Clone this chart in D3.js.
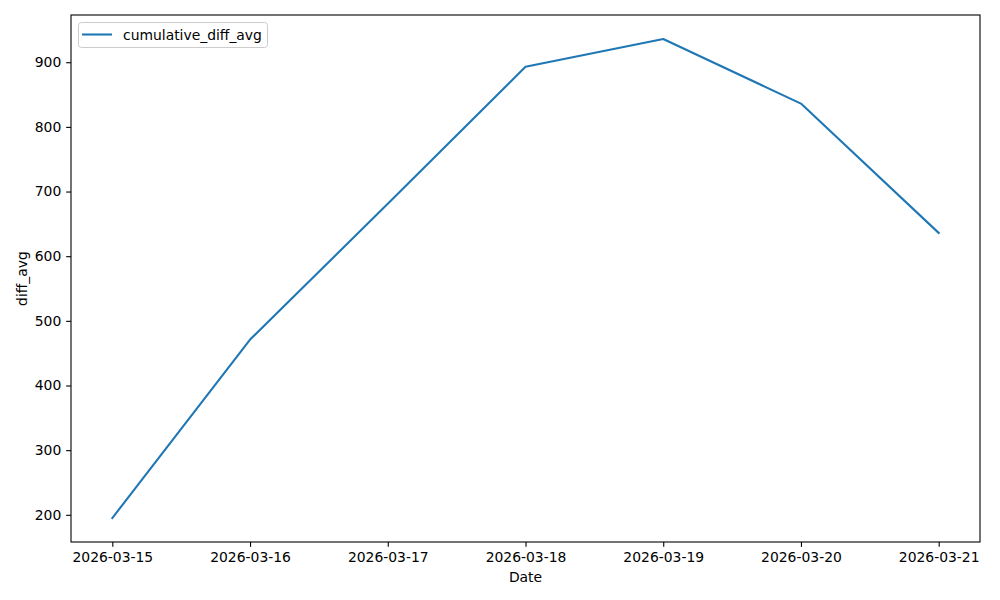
<!DOCTYPE html>
<html>
<head>
<meta charset="utf-8">
<script src="https://cdn.jsdelivr.net/npm/d3@7"></script>
<style>
html,body{margin:0;padding:0;background:#fff;}
svg{display:block;font-family:"DejaVu Sans",sans-serif;}
</style>
</head>
<body>
<svg id="chart" width="1000" height="600"></svg>
<script>
const dates = ["2026-03-15","2026-03-16","2026-03-17","2026-03-18","2026-03-19","2026-03-20","2026-03-21"];
const values = [195, 471, 681, 893, 936, 836, 636];
const yTicks = [200, 300, 400, 500, 600, 700, 800, 900];
const seriesName = "cumulative_diff_avg";
const xLabel = "Date";
const yLabel = "diff_avg";

const parse = d3.utcParse("%Y-%m-%d");
const data = dates.map((d, i) => ({date: parse(d), value: values[i]}));

const svg = d3.select("#chart");
const m = {left: 71, right: 980, top: 15, bottom: 542};

const xExt = d3.extent(data, d => d.date);
const xPad = (xExt[1] - xExt[0]) * 0.05;
const x = d3.scaleUtc().domain([new Date(+xExt[0] - xPad), new Date(+xExt[1] + xPad)]).range([m.left, m.right]);
const yExt = d3.extent(values);
const yPad = (yExt[1] - yExt[0]) * 0.05;
const y = d3.scaleLinear().domain([yExt[0] - yPad, yExt[1] + yPad]).range([m.bottom, m.top]);

const fs = "13.9px";

// line
svg.append("path")
  .datum(data)
  .attr("fill", "none")
  .attr("stroke", "#1f77b4")
  .attr("stroke-width", 2.08)
  .attr("stroke-linejoin", "round")
  .attr("stroke-linecap", "square")
  .attr("d", d3.line().x(d => x(d.date)).y(d => y(d.value)));

// axes
const xAxis = d3.axisBottom(x)
  .tickValues(data.map(d => d.date))
  .tickFormat(d3.utcFormat("%Y-%m-%d"))
  .tickSizeOuter(0).tickSize(4.86).tickPadding(4.86);
const gx = svg.append("g").attr("transform", `translate(0,${m.bottom})`).call(xAxis);
gx.select(".domain").remove();
gx.selectAll("text").attr("font-size", fs).attr("font-family", "DejaVu Sans").attr("fill", "#000");
gx.selectAll("line").attr("stroke", "#000").attr("stroke-width", 1.1);

const yAxis = d3.axisLeft(y).tickValues(yTicks).tickSizeOuter(0).tickSize(4.86).tickPadding(4.86);
const gy = svg.append("g").attr("transform", `translate(${m.left},0)`).call(yAxis);
gy.select(".domain").remove();
gy.selectAll("text").attr("font-size", fs).attr("font-family", "DejaVu Sans").attr("fill", "#000");
gy.selectAll("line").attr("stroke", "#000").attr("stroke-width", 1.1);

// frame
svg.append("rect")
  .attr("x", m.left).attr("y", m.top)
  .attr("width", m.right - m.left).attr("height", m.bottom - m.top)
  .attr("fill", "none").attr("stroke", "#000").attr("stroke-width", 1.1);

// axis labels
svg.append("text").attr("x", (m.left + m.right) / 2).attr("y", 582)
  .attr("text-anchor", "middle").attr("font-size", fs).text(xLabel);
svg.append("text").attr("transform", `translate(27,${(m.top + m.bottom) / 2}) rotate(-90)`)
  .attr("text-anchor", "middle").attr("font-size", fs).text(yLabel);

// legend
const lg = svg.append("g");
lg.append("rect").attr("x", 78.5).attr("y", 22.5).attr("width", 189).attr("height", 25)
  .attr("rx", 3).attr("fill", "#fff").attr("fill-opacity", 0.8)
  .attr("stroke", "#cccccc").attr("stroke-width", 1);
lg.append("line").attr("x1", 82).attr("x2", 112).attr("y1", 34.5).attr("y2", 34.5)
  .attr("stroke", "#1f77b4").attr("stroke-width", 2.08);
lg.append("text").attr("x", 123).attr("y", 39.5).attr("font-size", fs).text(seriesName);
</script>
</body>
</html>
